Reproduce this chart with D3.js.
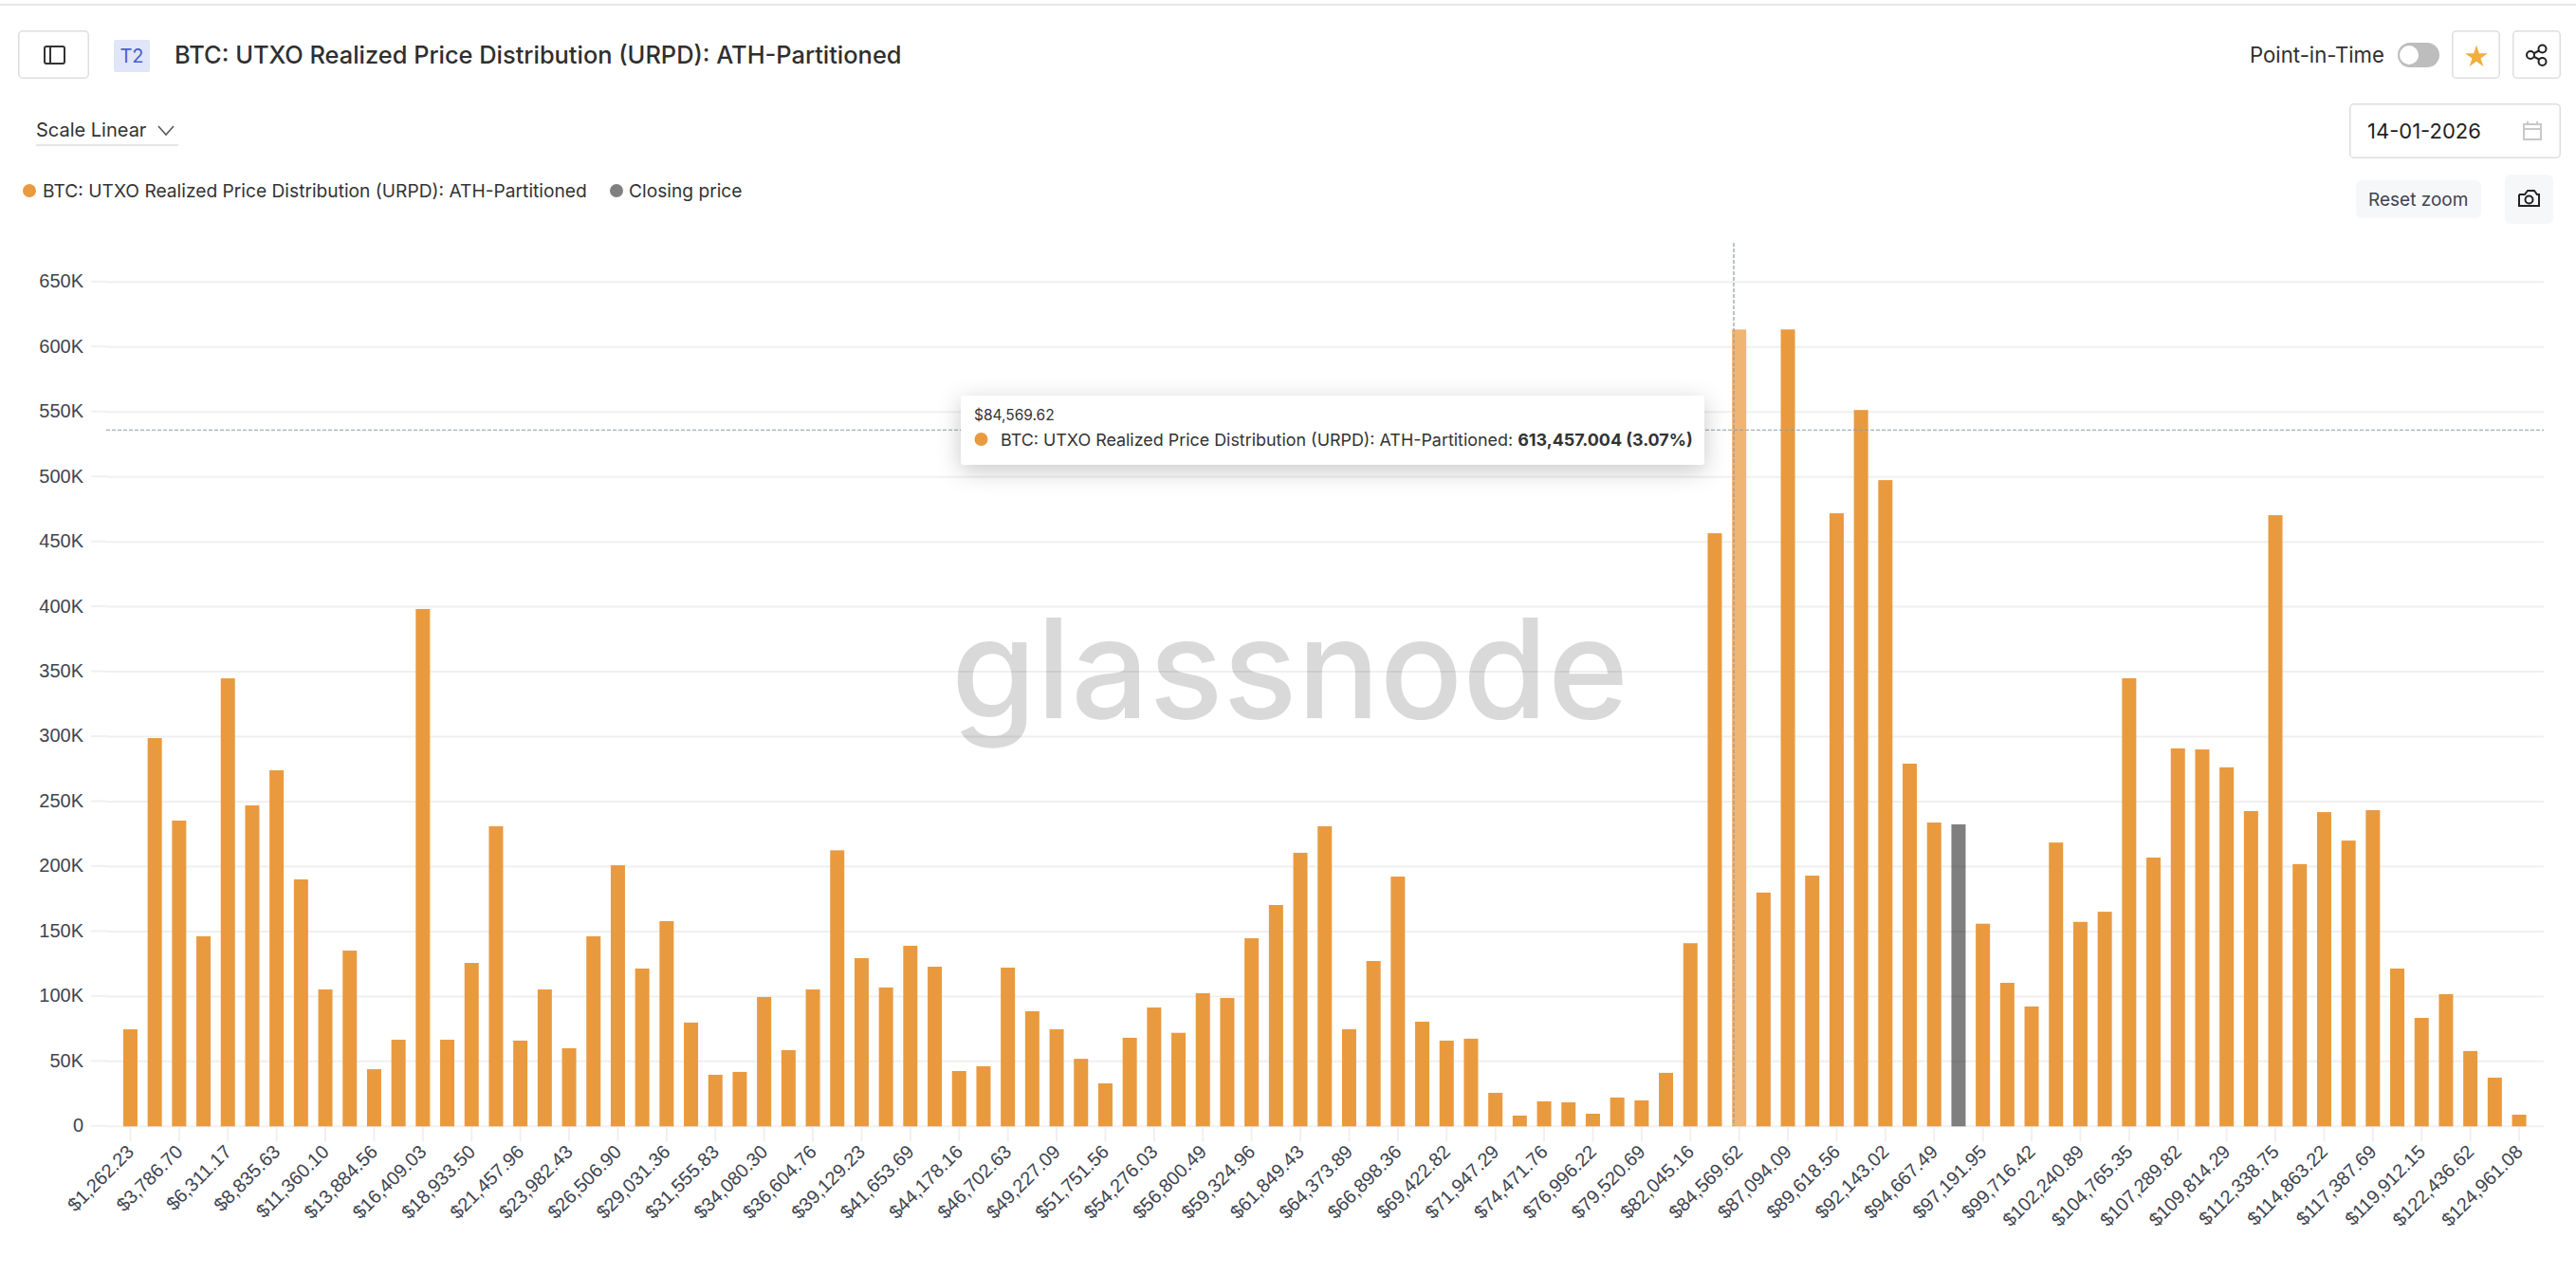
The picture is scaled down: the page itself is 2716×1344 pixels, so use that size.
<!DOCTYPE html>
<html>
<head>
<meta charset="utf-8">
<script src="https://cdnjs.cloudflare.com/ajax/libs/d3/7.8.5/d3.min.js"></script>
<style>
  html, body { margin: 0; padding: 0; background: #fff; }
  svg { display: block; font-family: Inter, sans-serif; }
  .axis text { font-family: "Liberation Sans", Arial, sans-serif; font-size: 20px; fill: #40444f; }
  .axis line { stroke: #f0f0f1; stroke-width: 2; }
  .axis path { display: none; }
</style>
</head>
<body>
<svg id="chart" width="2716" height="1344"></svg>
<script>
const title = "BTC: UTXO Realized Price Distribution (URPD): ATH-Partitioned";

// bin prices, one per bar
const binPrices = [
  1262.23, 2524.47, 3786.70, 5048.93, 6311.17, 7573.40, 8835.63, 10097.87, 11360.10, 12622.33,
  13884.56, 15146.80, 16409.03, 17671.27, 18933.50, 20195.73, 21457.96, 22720.20, 23982.43, 25244.67,
  26506.90, 27769.13, 29031.36, 30293.60, 31555.83, 32818.07, 34080.30, 35342.53, 36604.76, 37867.00,
  39129.23, 40391.46, 41653.69, 42915.93, 44178.16, 45440.40, 46702.63, 47964.86, 49227.09, 50489.33,
  51751.56, 53013.80, 54276.03, 55538.26, 56800.49, 58062.73, 59324.96, 60587.20, 61849.43, 63111.66,
  64373.89, 65636.13, 66898.36, 68160.59, 69422.82, 70685.06, 71947.29, 73209.53, 74471.76, 75733.99,
  76996.22, 78258.46, 79520.69, 80782.93, 82045.16, 83307.39, 84569.62, 85831.86, 87094.09, 88356.33,
  89618.56, 90880.79, 92143.02, 93405.26, 94667.49, 95929.72, 97191.95, 98454.19, 99716.42, 100978.66,
  102240.89, 103503.12, 104765.35, 106027.59, 107289.82, 108552.06, 109814.29, 111076.52, 112338.75, 113600.99,
  114863.22, 116125.46, 117387.69, 118649.92, 119912.15, 121174.39, 122436.62, 123698.86, 124961.08
];

// supply per bin (in thousands)
const supplyK = [
  74.7, 298.9, 235.4, 146.3, 344.9, 247.1, 274.1, 190.1, 105.4, 135.3,
  44, 66.7, 398.3, 66.7, 125.8, 231, 66, 105.4, 60.1, 146.3,
  201, 121.5, 158, 79.9, 39.7, 41.9, 99.6, 58.7, 105.4, 212.5,
  129.5, 106.9, 139, 122.9, 42.6, 46.3, 122.2, 88.6, 74.7, 52,
  33.1, 68.2, 91.5, 72, 102.5, 98.8, 144.8, 170.4, 210.6, 231,
  74.8, 127.3, 192.3, 80.6, 66, 67.5, 25.8, 8.3, 19.2, 18.5,
  9.7, 22.2, 20, 41.2, 141, 456.6, 613.457, 180, 613.5, 193,
  472, 551.5, 497.5, 279.2, 233.9, 232.5, 156, 110.5, 92.3, 218.5,
  157.4, 165.2, 345, 206.9, 291, 290.2, 276.4, 242.7, 470.5, 201.9,
  241.9, 220, 243.4, 121.5, 83.5, 101.8, 58, 37.5, 9
];

const yTicks = [0, 50000, 100000, 150000, 200000, 250000, 300000, 350000, 400000, 450000, 500000, 550000, 600000, 650000];
const closingBin = 95929.72;
const hoverBin = 84569.62;
const hoverY = 536100;

const orange = "#e99a3f";
const orangeLight = "#f0b573";
const svg = d3.select("#chart");

// scales
const x = d3.scaleBand()
    .domain(binPrices)
    .range([124.6, 2668.9])
    .paddingInner(0.416)
    .paddingOuter(0.208);
const y = d3.scaleLinear().domain([0, 650000]).range([1187.3, 297.3]);

// top rule of the page
svg.append("rect").attr("x", 0).attr("y", 4).attr("width", 2716).attr("height", 2).attr("fill", "#e6e6e6");

// grid
svg.append("g").selectAll("line")
    .data(yTicks)
    .join("line")
      .attr("x1", 112).attr("x2", 2682)
      .attr("y1", d => y(d)).attr("y2", d => y(d))
      .attr("stroke", "#eff0f1").attr("stroke-width", 2);

// watermark
svg.append("text")
    .attr("x", 1003).attr("y", 757)
    .attr("textLength", 714).attr("lengthAdjust", "spacingAndGlyphs")
    .attr("font-family", "Inter, sans-serif")
    .attr("font-size", 146)
    .attr("font-weight", 500)
    .attr("fill", "#000").attr("fill-opacity", 0.15)
    .text("glassnode");

// axes
const yAxis = d3.axisLeft(y)
    .tickValues(yTicks)
    .tickSize(16)
    .tickPadding(8)
    .tickFormat(d => d === 0 ? "0" : (d / 1000) + "K");
svg.append("g").attr("class", "axis").attr("transform", "translate(112,-1)").call(yAxis);

const xAxis = d3.axisBottom(x)
    .tickValues(binPrices.filter((d, i) => i % 2 === 0))
    .tickSize(16)
    .tickFormat(d3.format("$,.2f"));
const gx = svg.append("g").attr("class", "axis").attr("transform", "translate(0,1187.3)").call(xAxis);
gx.selectAll("text")
    .attr("text-anchor", "end")
    .attr("dy", null)
    .attr("y", 0)
    .attr("transform", "translate(5,28) rotate(-45)");

// bars
svg.append("g").selectAll("rect")
    .data(binPrices)
    .join("rect")
      .attr("x", d => x(d))
      .attr("y", (d, i) => y(supplyK[i] * 1000))
      .attr("width", x.bandwidth())
      .attr("height", (d, i) => y(0) - y(supplyK[i] * 1000))
      .attr("fill", d => d === closingBin ? "#000" : d === hoverBin ? orangeLight : orange)
      .attr("fill-opacity", d => d === closingBin ? 0.5 : 1);

// crosshair
const crossColor = "#8f9aa6";
svg.append("line")
    .attr("x1", 112).attr("x2", 2682)
    .attr("y1", y(hoverY)).attr("y2", y(hoverY))
    .attr("stroke", crossColor).attr("stroke-width", 1.2).attr("stroke-dasharray", "4 2");
svg.append("line")
    .attr("x1", 1828).attr("x2", 1828)
    .attr("y1", 256).attr("y2", 1187)
    .attr("stroke", crossColor).attr("stroke-width", 1.2).attr("stroke-dasharray", "4 2");

// tooltip
const defs = svg.append("defs");
defs.append("filter").attr("id", "tipShadow")
    .attr("x", "-10%").attr("y", "-60%").attr("width", "120%").attr("height", "240%")
  .append("feDropShadow")
    .attr("dx", 0).attr("dy", 6).attr("stdDeviation", 12)
    .attr("flood-color", "#000").attr("flood-opacity", 0.22);
const tip = svg.append("g");
tip.append("rect")
    .attr("x", 1013).attr("y", 417).attr("width", 784).attr("height", 73).attr("rx", 4)
    .attr("fill", "#fff").attr("filter", "url(#tipShadow)");
tip.append("text").attr("x", 1027).attr("y", 443)
    .attr("font-size", 15.5).attr("fill", "#333")
    .text(d3.format("$,.2f")(hoverBin));
tip.append("circle").attr("cx", 1034.5).attr("cy", 463).attr("r", 7).attr("fill", orange);
const tipText = tip.append("text").attr("x", 1055).attr("y", 470)
    .attr("font-size", 17.9).attr("fill", "#333");
tipText.append("tspan").text(title + ": ");
tipText.append("tspan").attr("font-weight", 700).text("613,457.004 (3.07%)");

// header: left side
const chrome = svg.append("g");
const button = (bx, by, w, h) => chrome.append("rect")
    .attr("x", bx + 0.75).attr("y", by + 0.75).attr("width", w - 1.5).attr("height", h - 1.5).attr("rx", 4)
    .attr("fill", "#fff").attr("stroke", "#dedede").attr("stroke-width", 1.5);

button(19, 32, 75, 51);
chrome.append("rect").attr("x", 47).attr("y", 49).attr("width", 21).attr("height", 18).attr("rx", 2)
    .attr("fill", "none").attr("stroke", "#333").attr("stroke-width", 2);
chrome.append("line").attr("x1", 53).attr("x2", 53).attr("y1", 49).attr("y2", 67)
    .attr("stroke", "#333").attr("stroke-width", 2);

chrome.append("rect").attr("x", 120).attr("y", 42).attr("width", 38).attr("height", 34).attr("rx", 2).attr("fill", "#e0e5f8");
chrome.append("text").attr("x", 139).attr("y", 66).attr("text-anchor", "middle")
    .attr("font-size", 20).attr("fill", "#4a5cd6").text("T2");
chrome.append("text").attr("x", 184).attr("y", 67)
    .attr("font-size", 25.4).attr("font-weight", 500).attr("fill", "#2f2f2f").text(title);

chrome.append("text").attr("x", 38).attr("y", 144).attr("font-size", 20).attr("fill", "#333").text("Scale Linear");
chrome.append("path").attr("d", d3.line()([[167, 133], [175, 142], [183, 133]]))
    .attr("fill", "none").attr("stroke", "#555").attr("stroke-width", 1.5);
chrome.append("line").attr("x1", 38).attr("x2", 188).attr("y1", 153).attr("y2", 153)
    .attr("stroke", "#dedede").attr("stroke-width", 1.5);

// legend
chrome.append("circle").attr("cx", 31).attr("cy", 201).attr("r", 7).attr("fill", orange);
chrome.append("text").attr("x", 45).attr("y", 208).attr("font-size", 19.2).attr("fill", "#333").text(title);
chrome.append("circle").attr("cx", 650).attr("cy", 201).attr("r", 7).attr("fill", "#808080");
chrome.append("text").attr("x", 663).attr("y", 208).attr("font-size", 19.2).attr("fill", "#333").text("Closing price");

// header: right side
chrome.append("text").attr("x", 2372).attr("y", 66).attr("font-size", 22.2).attr("fill", "#2f2f2f").text("Point-in-Time");
chrome.append("rect").attr("x", 2528).attr("y", 45).attr("width", 44).attr("height", 26).attr("rx", 13).attr("fill", "#bdbdbd");
chrome.append("circle").attr("cx", 2540).attr("cy", 58).attr("r", 10).attr("fill", "#fff");

button(2585, 32, 51, 51);
chrome.append("path")
    .attr("d", d3.symbol(d3.symbolStar).size(175)())
    .attr("transform", "translate(2611,60)")
    .attr("fill", "#f0ae40");

button(2649, 32, 51, 51);
const share = chrome.append("g").attr("fill", "none").attr("stroke", "#222").attr("stroke-width", 2);
share.append("path").attr("d", d3.line()([[2680, 52], [2668, 58], [2680, 64]]));
share.selectAll("circle")
    .data([[2680.5, 51.5], [2668, 58], [2680.5, 65]])
    .join("circle")
      .attr("cx", d => d[0]).attr("cy", d => d[1]).attr("r", 4).attr("fill", "#fff");

button(2477, 109, 223, 58);
chrome.append("text").attr("x", 2496).attr("y", 146).attr("font-size", 22).attr("fill", "#1f1f1f").text("14-01-2026");
const cal = chrome.append("g").attr("fill", "none").attr("stroke", "#c8c8c8").attr("stroke-width", 2);
cal.append("rect").attr("x", 2661).attr("y", 131).attr("width", 18).attr("height", 16);
cal.append("line").attr("x1", 2661).attr("x2", 2679).attr("y1", 136).attr("y2", 136);
cal.append("line").attr("x1", 2665).attr("x2", 2665).attr("y1", 128).attr("y2", 132);
cal.append("line").attr("x1", 2675).attr("x2", 2675).attr("y1", 128).attr("y2", 132);

chrome.append("rect").attr("x", 2484).attr("y", 190).attr("width", 132).attr("height", 40).attr("rx", 6).attr("fill", "#f6f7f9");
chrome.append("text").attr("x", 2497).attr("y", 217).attr("font-size", 19).attr("fill", "#3f4250").text("Reset zoom");
chrome.append("rect").attr("x", 2641).attr("y", 184).attr("width", 51).attr("height", 52).attr("rx", 6).attr("fill", "#f6f7f9");
const cam = chrome.append("g").attr("fill", "none").attr("stroke", "#222").attr("stroke-width", 2);
cam.append("path").attr("d", d3.line()([[2656, 205], [2662, 205], [2665, 201], [2672, 201], [2675, 205], [2677, 205], [2677, 217], [2656, 217], [2656, 205]]));
cam.append("circle").attr("cx", 2666.5).attr("cy", 210.5).attr("r", 4);
</script>
</body>
</html>
